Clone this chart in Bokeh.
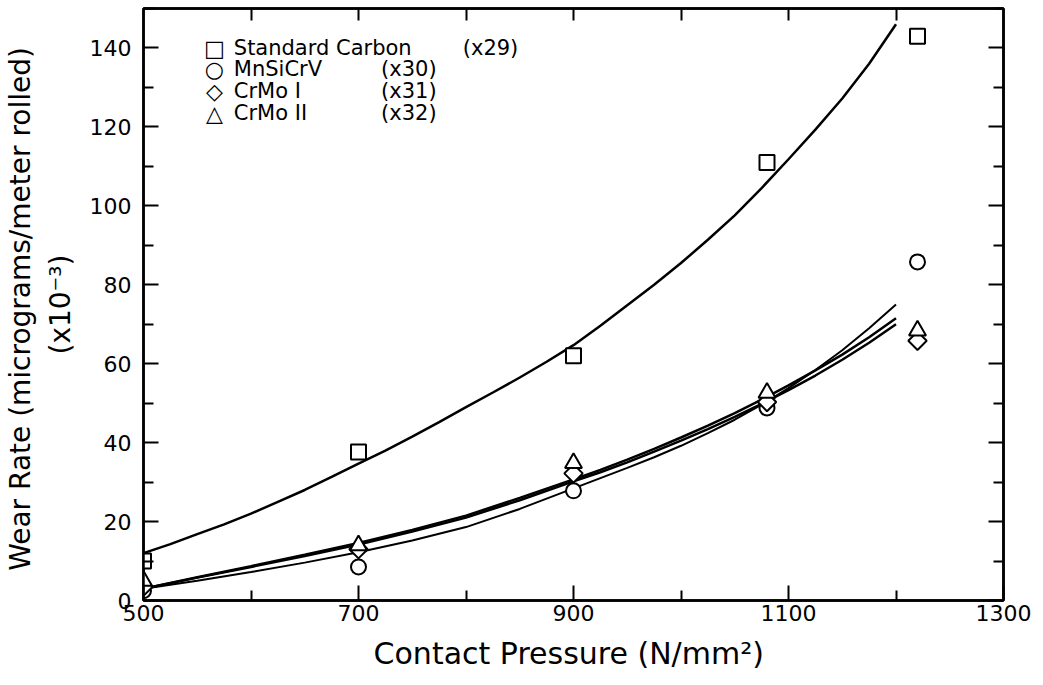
from bokeh.plotting import figure
from bokeh.models import FixedTicker, LinearAxis, Label, Range1d
from bokeh.embed import file_html
from bokeh.resources import INLINE
import math

# ---- measured points ----
pressure = [500, 700, 900, 1080, 1220]
std_carbon = [10, 37.6, 62, 111, 143]
mnsicrv = [2.5, 8.5, 27.8, 48.8, 85.8]
crmo1 = [3.5, 13, 32.2, 50.3, 65.8]
crmo2 = [5, 14, 34.8, 52.6, 68.4]

# ---- fitted curves ----
curve_x_std = [500, 525, 550, 575, 600, 625, 650, 675, 700, 725, 750, 775, 800, 825, 850,
               875, 900, 925, 950, 975, 1000, 1025, 1050, 1075, 1100, 1125, 1150, 1175, 1200]
curve_std = [12, 14.3, 16.8, 19.3, 22, 25, 28, 31.3, 34.7, 38, 41.5, 45.2, 49, 52.7, 56.5,
             60.5, 64.7, 69.6, 74.8, 80, 85.5, 91.4, 97.6, 104.5, 111.8, 119.3, 127.2, 136, 146]
curve_x_low = [500, 550, 600, 650, 700, 750, 800, 850, 900, 925, 950, 975, 1000,
               1025, 1050, 1075, 1100, 1125, 1150, 1175, 1200]
curve_mn = [3, 5, 7.2, 9.6, 12.2, 15.2, 18.6, 23.2, 28.4, 31, 33.6, 36.3, 39.2,
            42.4, 45.8, 49.6, 53.8, 58.4, 63.4, 69, 75]
curve_c1 = [3, 5.8, 8.5, 11.3, 14.2, 17.5, 21, 25.4, 30.2, 32.5, 35, 37.7, 40.5,
            43.4, 46.5, 49.8, 53.3, 57, 61, 65.3, 70]
curve_c2 = [3, 5.9, 8.7, 11.6, 14.6, 17.9, 21.5, 26, 30.7, 33.1, 35.7, 38.4, 41.3,
            44.3, 47.5, 50.9, 54.5, 58.3, 62.3, 66.7, 71.5]

series_names = ["Standard Carbon", "MnSiCrV", "CrMo I", "CrMo II"]
series_tags = ["(x29)", "(x30)", "(x31)", "(x32)"]
series_symbols = ["\u25a1", "\u25cb", "\u25c7", "\u25b3"]

x_major = [500, 700, 900, 1100, 1300]
x_minor = [600, 800, 1000, 1200]
y_major = [0, 20, 40, 60, 80, 100, 120, 140]
y_minor = [10, 30, 50, 70, 90, 110, 130, 150]

FONT = "DejaVu Sans"

p = figure(width=1043, height=685, x_range=Range1d(500, 1300), y_range=Range1d(0, 150),
           output_backend="svg", toolbar_location=None,
           min_border_left=142, min_border_right=40, min_border_top=8, min_border_bottom=85)
p.xgrid.visible = False
p.ygrid.visible = False
p.outline_line_color = "black"
p.outline_line_width = 2.5
p.background_fill_color = "white"
p.border_fill_color = "white"

def style_axis(ax, major, minor, show_labels):
    ax.ticker = FixedTicker(ticks=major, minor_ticks=minor)
    ax.axis_line_color = "black"
    ax.axis_line_width = 2.5
    ax.major_tick_line_color = "black"
    ax.minor_tick_line_color = "black"
    ax.major_tick_line_width = 2
    ax.minor_tick_line_width = 2
    ax.major_tick_out = 0
    ax.minor_tick_out = 0
    ax.major_tick_in = 15
    ax.minor_tick_in = 10
    if show_labels:
        ax.major_label_text_font = FONT
        ax.major_label_text_font_size = "22px"
        ax.major_label_text_color = "black"
    else:
        ax.major_label_overrides = {t: "" for t in major}
        ax.major_label_text_font_size = "1px"
        ax.major_label_standoff = 0

xa = p.xaxis[0]
style_axis(xa, x_major, x_minor, True)
xa.major_label_standoff = 4
xa.axis_label = "Contact Pressure  (N/mm\u00b2)"
xa.axis_label_text_font = FONT
xa.axis_label_text_font_size = "30px"
xa.axis_label_text_font_style = "normal"
xa.axis_label_text_color = "black"
xa.axis_label_standoff = 12

ya = p.yaxis[0]
style_axis(ya, y_major, y_minor, True)
ya.major_label_standoff = 12
ya.axis_label = "Wear Rate  (micrograms/meter rolled)\n(x10\u207b\u00b3)"
ya.axis_label_text_font = FONT
ya.axis_label_text_font_size = "28px"
ya.axis_label_text_font_style = "normal"
ya.axis_label_text_color = "black"
ya.axis_label_standoff = 10

top = LinearAxis(); style_axis(top, [600, 700, 800, 900, 1000, 1100, 1200], [], False)
top.major_tick_in = 12
p.add_layout(top, "above")
right = LinearAxis(); style_axis(right, y_major, y_minor, False)
p.add_layout(right, "right")

# curves
p.line(curve_x_std, curve_std, line_color="black", line_width=2.5)
p.line(curve_x_low, curve_mn, line_color="black", line_width=2)
p.line(curve_x_low, curve_c1, line_color="black", line_width=2.5)
p.line(curve_x_low, curve_c2, line_color="black", line_width=2.5)

# markers
kw = dict(line_color="black", line_width=2, fill_color="white")
p.scatter(pressure, std_carbon, marker="square", size=15, **kw)
p.scatter(pressure, mnsicrv, marker="circle", size=15, **kw)
p.scatter(pressure, crmo1, marker="square", angle=math.pi / 4, size=13, **kw)
p.scatter(pressure, crmo2, marker="triangle", size=17, **kw)

# legend (text-based, placed in the upper-left corner)
sym_x, name_x = 566, 584
tag_x = [797, 721, 721, 721]
row_y = [139.9, 134.6, 129.0, 123.4]
for sym, name, tag, tx, ty in zip(series_symbols, series_names, series_tags, tag_x, row_y):
    p.add_layout(Label(x=sym_x, y=ty, text=sym, text_font=FONT, text_font_size="22px",
                       text_align="center", text_baseline="middle", text_color="black"))
    p.add_layout(Label(x=name_x, y=ty, text=name, text_font=FONT, text_font_size="21px",
                       text_baseline="middle", text_color="black"))
    p.add_layout(Label(x=tx, y=ty, text=tag, text_font=FONT, text_font_size="21px",
                       text_baseline="middle", text_color="black"))

open("out.html", "w").write(file_html(p, INLINE))
